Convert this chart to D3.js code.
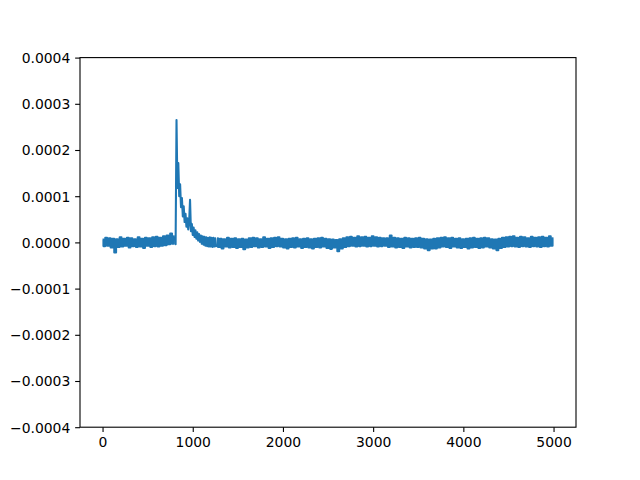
<!DOCTYPE html>
<html><head><meta charset="utf-8">
<script src="https://cdn.jsdelivr.net/npm/d3@7"></script>
<style>body{margin:0;background:#fff}svg{display:block}</style>
</head><body>
<script>
// Signal values in units of 1e-6.
// Baseline before the event: index 0..800, one value every 20
const beforeMicro = [
 6,-8,10,-7,9,-11,8,-22,7,-10,11,-9,8,-7,10,-11,9,-8,7,-10,11,-9,8,-12,10,-7,9,-10,11,-8,12,-9,10,-7,13,-6,15,-4,19,-3,13
];
// Event and decay: index 800..1260, one value every 10
const decayMicro = [
 13,-4,265,118,172,100,126,76,96,56,78,44,62,34,52,28,44,92,24,40,16,32,12,26,8,22,4,18,1,15,
 -3,13,-5,12,-7,11,-8,10,-9,11,-9,10,-10,10,-9,9,-10
];
// Baseline after the event: index 1270..4999, one value every ~20
const afterMicro = [
 9,-10,8,-13,7,-9,10,-11,8,-10,
 9,-12,7,-10,8,-15,6,-11,9,-10,
 10,-8,9,-11,7,-10,11,-9,8,-12,
 9,-10,10,-8,11,-9,8,-11,7,-13,
 8,-10,9,-11,10,-9,7,-12,8,-10,
 9,-11,7,-13,8,-10,9,-11,10,-9,
 8,-12,7,-14,6,-11,5,-19,7,-13,
 9,-10,11,-8,12,-7,10,-9,13,-8,
 11,-7,12,-9,10,-8,13,-7,11,-9,
 10,-8,9,-7,9,-10,15,-9,10,-11,
 9,-10,8,-12,10,-9,9,-11,8,-10,
 9,-10,10,-11,8,-13,7,-17,6,-13,
 8,-13,9,-11,10,-9,11,-10,9,-12,
 10,-9,8,-11,9,-12,7,-10,8,-13,
 9,-11,10,-10,8,-12,9,-11,10,-9,
 9,-11,7,-13,6,-17,8,-12,10,-10,
 11,-9,12,-8,13,-9,10,-10,12,-8,
 11,-9,9,-10,12,-8,10,-9,11,-10,
 12,-8,10,-9,13,-7,9
];
const xMax = 4999;
const xTicks = [0, 1000, 2000, 3000, 4000, 5000];
const yTicks = [-0.0004, -0.0003, -0.0002, -0.0001, 0, 0.0001, 0.0002, 0.0003, 0.0004];

const W = 640, H = 480;
const L = 80, R = 576, T = 57.6, B = 427.2;
const before = beforeMicro.map((v, i) => ({x: i * 20, y: v * 1e-6}));
const decay = decayMicro.map((v, i) => ({x: 800 + i * 10, y: v * 1e-6}));
const afterStep = (xMax - 1270) / (afterMicro.length - 1);
const after = afterMicro.map((v, i) => ({x: 1270 + i * afterStep, y: v * 1e-6}));

const pad = xMax * 0.05;
const x = d3.scaleLinear().domain([-pad, xMax + pad]).range([L, R]);
const y = d3.scaleLinear().domain([-0.0004, 0.0004]).range([B, T]);

const svg = d3.select("body").append("svg").attr("width", W).attr("height", H);

const stepLine = d3.line().curve(d3.curveStep).x(d => x(d.x)).y(d => y(d.y));
const linLine = d3.line().x(d => x(d.x)).y(d => y(d.y));
[[before, stepLine], [decay, linLine], [after, stepLine]].forEach(([d, gen]) => {
  svg.append("path").datum(d)
    .attr("fill", "none").attr("stroke", "#1f77b4").attr("stroke-width", 2.08)
    .attr("stroke-linejoin", "round").attr("stroke-linecap", "butt")
    .attr("d", gen);
});

const fmt = d3.format(".4f");
const xAxis = svg.append("g").attr("transform", `translate(0,${B})`)
  .call(d3.axisBottom(x).tickValues(xTicks).tickFormat(d3.format("d")).tickSize(4.86).tickPadding(4.86));
const yAxis = svg.append("g").attr("transform", `translate(${L},0)`)
  .call(d3.axisLeft(y).tickValues(yTicks).tickFormat(d => fmt(d)).tickSize(4.86).tickPadding(4.86));
[xAxis, yAxis].forEach(g => {
  g.select(".domain").remove();
  g.selectAll("line").attr("stroke", "#000").attr("stroke-width", 1.1);
  g.selectAll("text").attr("font-family", "DejaVu Sans").attr("font-size", 13.9).attr("fill", "#000");
});
yAxis.selectAll("text").attr("dy", "0.35em");
xAxis.selectAll("text").attr("dy", "0.75em");

svg.append("rect").attr("x", L).attr("y", T).attr("width", R - L).attr("height", B - T)
  .attr("fill", "none").attr("stroke", "#000").attr("stroke-width", 1.1);
</script>
</body></html>
